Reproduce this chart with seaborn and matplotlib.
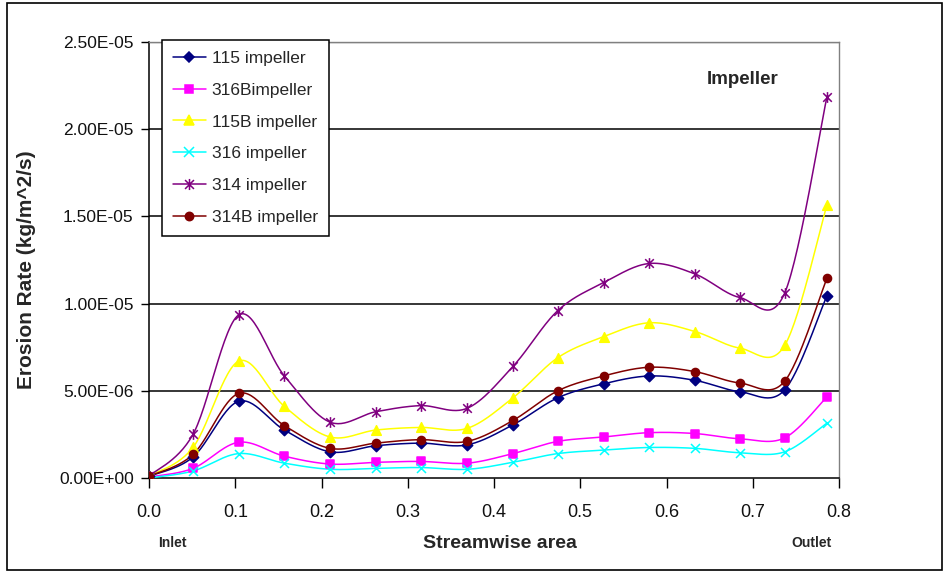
import numpy as np
import pandas as pd
import seaborn as sns
import matplotlib
matplotlib.use("Agg")
import matplotlib.pyplot as plt
from matplotlib.lines import Line2D
from matplotlib.path import Path
from matplotlib.patches import Rectangle
from matplotlib.ticker import FuncFormatter, FixedLocator

# ---------------- data ----------------
streamwise = [0.0, 0.051, 0.104, 0.157, 0.210, 0.263, 0.315, 0.369,
              0.422, 0.474, 0.527, 0.580, 0.633, 0.685, 0.737, 0.786]

series_names = ["115 impeller", "316Bimpeller", "115B impeller",
                "316 impeller", "314 impeller", "314B impeller"]

imp_115 = [0.10, 1.20, 4.40, 2.75, 1.50, 1.85, 2.00, 1.90,
           3.05, 4.60, 5.40, 5.85, 5.60, 4.95, 5.05, 10.45]
imp_316B = [0.05, 0.55, 2.05, 1.25, 0.80, 0.90, 0.95, 0.85,
            1.40, 2.10, 2.35, 2.60, 2.55, 2.25, 2.30, 4.65]
imp_115B = [0.10, 1.75, 6.70, 4.10, 2.35, 2.75, 2.90, 2.85,
            4.60, 6.90, 8.10, 8.90, 8.40, 7.45, 7.60, 15.65]
imp_316 = [0.00, 0.40, 1.40, 0.85, 0.50, 0.55, 0.60, 0.50,
           0.90, 1.40, 1.60, 1.75, 1.70, 1.45, 1.50, 3.15]
imp_314 = [0.10, 2.50, 9.35, 5.85, 3.20, 3.80, 4.15, 4.00,
           6.40, 9.60, 11.20, 12.30, 11.70, 10.35, 10.60, 21.85]
imp_314B = [0.10, 1.35, 4.85, 3.00, 1.70, 2.00, 2.20, 2.10,
            3.30, 5.00, 5.85, 6.35, 6.10, 5.45, 5.55, 11.45]
values_scale = 1e-6  # values above are in units of 1E-06

y_ticks = [0.0, 5e-6, 1e-5, 1.5e-5, 2e-5, 2.5e-5]
x_ticks = [0.0, 0.1, 0.2, 0.3, 0.4, 0.5, 0.6, 0.7, 0.8]
x_tick_labels = ["0.0", "0.1", "0.2", "0.3", "0.4", "0.5", "0.6", "0.7", "0.8"]

# ---------------- style ----------------
colors = ["#000080", "#FF00FF", "#FFFF00", "#00FFFF", "#800080", "#800000"]

star = Path([(-1, -1), (1, 1), (-1, 1), (1, -1), (0, -1.25), (0, 1.25)],
            [Path.MOVETO, Path.LINETO, Path.MOVETO, Path.LINETO,
             Path.MOVETO, Path.LINETO])
markers = ["D", "s", "^", "x", star, "o"]
msizes = [28, 30, 48, 42, 60, 34]
legend_ms = [5.5, 6, 7.5, 7, 8, 6]

sns.set_theme(style="white")
plt.rcParams["font.family"] = ["Liberation Sans", "DejaVu Sans"]

fig = plt.figure(figsize=(9.5, 5.75), dpi=100)
W, H = 950, 575
ax = fig.add_axes([149 / W, 1 - 478 / H, (839 - 149) / W, (478 - 42) / H])

XMIN, XMAX = 0.0, 0.8
YMIN, YMAX = 0.0, 2.5e-5
PXW, PXH = 690.0, 436.0


def smooth(xs, ys, n=30):
    """Excel-like smoothed line (Catmull-Rom Bezier) in screen space."""
    px = (np.asarray(xs) - XMIN) / (XMAX - XMIN) * PXW
    py = (np.asarray(ys) - YMIN) / (YMAX - YMIN) * PXH
    P = np.column_stack([px, py])
    out = [P[0]]
    t = np.linspace(0, 1, n)[1:, None]
    for i in range(len(P) - 1):
        p0 = P[i - 1] if i > 0 else P[i]
        p1, p2 = P[i], P[i + 1]
        p3 = P[i + 2] if i + 2 < len(P) else P[i + 1]
        b1 = p1 + (p2 - p0) / 6.0
        b2 = p2 - (p3 - p1) / 6.0
        seg = ((1 - t) ** 3) * p1 + 3 * ((1 - t) ** 2) * t * b1 + \
              3 * (1 - t) * t ** 2 * b2 + t ** 3 * p2
        out.extend(seg)
    out = np.array(out)
    return (out[:, 0] / PXW * (XMAX - XMIN) + XMIN,
            out[:, 1] / PXH * (YMAX - YMIN) + YMIN)


all_series = [imp_115, imp_316B, imp_115B, imp_316, imp_314, imp_314B]

# gridlines
for yv in y_ticks[1:-1]:
    ax.axhline(yv, color="black", lw=1.1, zorder=1)
ax.axhline(y_ticks[-1], color="#808080", lw=1.0, zorder=1)

handles = []
for name, vals, c, m, s, lms in zip(series_names, all_series, colors,
                                     markers, msizes, legend_ms):
    yv = np.array(vals) * values_scale
    sx, sy = smooth(streamwise, yv)
    sns.lineplot(x=sx, y=sy, ax=ax, color=c, lw=1.1, sort=False,
                 estimator=None, zorder=3)
    sns.scatterplot(x=streamwise, y=yv, ax=ax, color=c, marker=m, s=s,
                    edgecolor=c, linewidth=1.1, zorder=4, legend=False)
    handles.append(Line2D([], [], color=c, lw=1.1, marker=m, markersize=lms,
                          markerfacecolor=c, markeredgecolor=c,
                          markeredgewidth=1.1))

ax.set_xlim(XMIN, XMAX)
ax.set_ylim(YMIN, YMAX)

ax.xaxis.set_major_locator(FixedLocator(x_ticks))
ax.set_xticklabels(x_tick_labels)
ax.yaxis.set_major_locator(FixedLocator(y_ticks))
ax.yaxis.set_major_formatter(FuncFormatter(lambda v, p: f"{v:.2E}"))

ax.tick_params(axis="y", direction="out", length=6, width=1, color="black",
               labelsize=12.5, pad=5, left=True, labelcolor="#111111")
ax.tick_params(axis="x", direction="out", length=7, width=1, color="black",
               labelsize=13, pad=12, bottom=True, labelcolor="#111111")

for side in ["left", "bottom"]:
    ax.spines[side].set_color("black")
    ax.spines[side].set_linewidth(1.1)
for side in ["top", "right"]:
    ax.spines[side].set_color("#808080")
    ax.spines[side].set_linewidth(1.0)

ax.set_xlabel("")
ax.set_ylabel("")

# axis titles and annotations
fig.text(27 / W, 1 - 270 / H, "Erosion Rate (kg/m^2/s)", rotation=90,
         ha="center", va="center", fontsize=15, fontweight="bold")
fig.text(500 / W, 1 - 543 / H, "Streamwise area", ha="center", va="center",
         fontsize=14, fontweight="bold")
fig.text(172 / W, 1 - 543 / H, "Inlet", ha="center", va="center",
         fontsize=10, fontweight="bold")
fig.text(812 / W, 1 - 543 / H, "Outlet", ha="center", va="center",
         fontsize=10, fontweight="bold")
fig.text(743 / W, 1 - 80 / H, "Impeller", ha="center", va="center",
         fontsize=13.5, fontweight="bold")

leg = ax.legend(handles, series_names, loc="upper left",
                bbox_to_anchor=(162 / W, 1 - 40 / H),
                bbox_transform=fig.transFigure, borderaxespad=0,
                fontsize=12.5, frameon=True, fancybox=False,
                edgecolor="black", framealpha=1, handlelength=1.9,
                handletextpad=0.35, labelspacing=0.96, borderpad=0.62)
leg.get_frame().set_linewidth(1.1)
leg.set_zorder(10)

# outer frame
fig.patches.append(Rectangle((7 / W, 5 / H), (942 - 7) / W, (570 - 3) / H,
                             transform=fig.transFigure, fill=False,
                             edgecolor="black", lw=1.2))

fig.savefig("out.png", dpi=100)
